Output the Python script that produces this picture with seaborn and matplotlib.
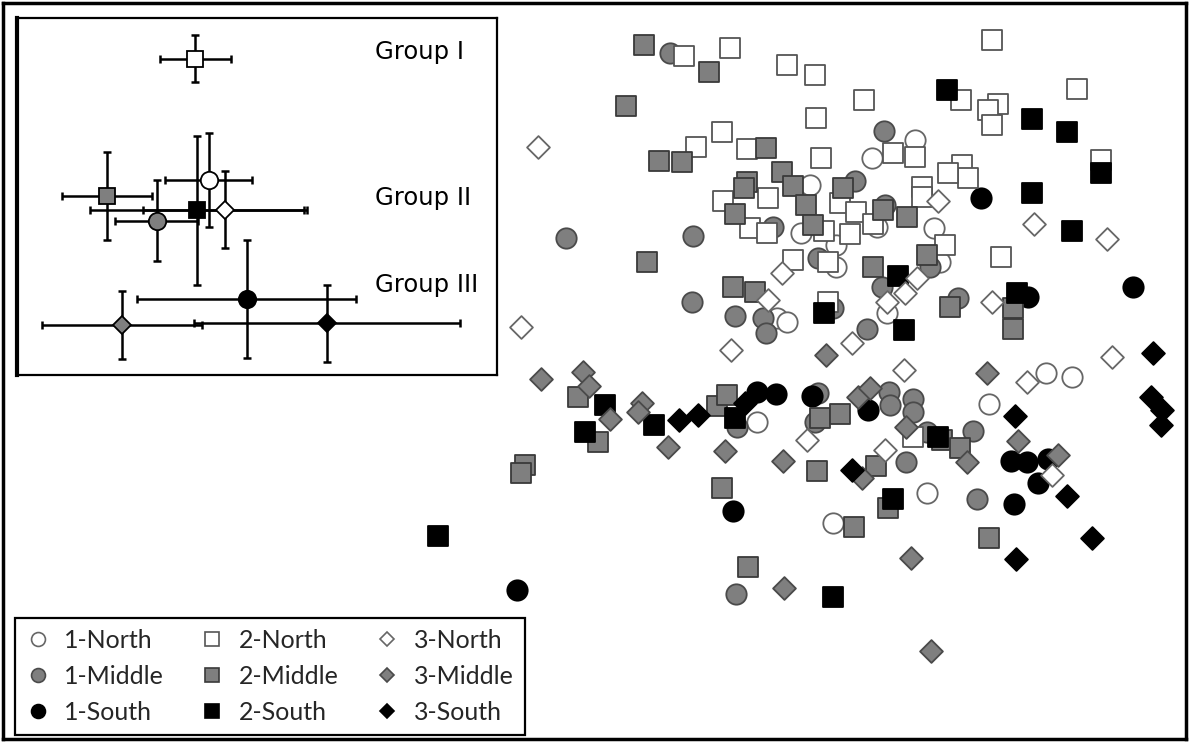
import matplotlib
matplotlib.use("Agg")
import matplotlib.pyplot as plt
import seaborn as sns
from matplotlib.lines import Line2D

# ---------------- data (pixel-like units; y grows downward) -------------
n1_x = [915, 872, 810, 934, 877, 801, 836, 836, 777, 787, 887, 940, 757, 1046, 1072, 989, 927, 833]
n1_y = [140, 158, 185, 228, 227, 233, 245, 267, 318, 322, 313, 262, 422, 373, 377, 404, 493, 523]

m1_x = [670, 884, 855, 773, 885, 566, 693, 692, 735, 818, 763, 766, 833, 882, 867, 930, 889, 890,
        913, 913, 815, 737, 958, 973, 977, 906, 736, 927, 818]
m1_y = [53, 131, 181, 227, 205, 238, 236, 302, 316, 258, 318, 333, 308, 287, 329, 267, 392, 405,
        399, 412, 422, 427, 298, 431, 499, 462, 594, 432, 393]

s1_x = [981, 1028, 1133, 757, 776, 812, 868, 1011, 1027, 1048, 1038, 1014, 733, 517]
s1_y = [198, 297, 287, 392, 394, 396, 410, 461, 462, 459, 483, 504, 511, 590]

n2_x = [684, 730, 787, 815, 864, 992, 1077, 961, 998, 988, 992, 1101, 962, 968, 816, 722, 696, 747,
        821, 893, 915, 948, 922, 922, 768, 840, 856, 750, 767, 824, 850, 873, 945, 723, 793, 828,
        828, 913, 1001]
n2_y = [56, 48, 65, 75, 100, 40, 89, 100, 104, 110, 125, 160, 165, 178, 118, 132, 147, 149,
        158, 153, 157, 173, 187, 197, 198, 203, 212, 228, 233, 231, 234, 224, 245, 201, 260, 262,
        302, 437, 257]

m2_x = [644, 709, 626, 659, 682, 735, 766, 782, 747, 744, 793, 843, 806, 883, 907, 813, 647, 733,
        755, 927, 873, 950, 820, 840, 942, 578, 598, 525, 521, 717, 727, 1013, 1013, 960, 989, 817,
        876, 888, 854, 748, 722]
m2_y = [45, 72, 106, 161, 162, 214, 148, 172, 182, 188, 186, 188, 205, 210, 217, 225, 262, 287,
        292, 255, 267, 307, 418, 414, 440, 397, 442, 465, 473, 406, 395, 308, 329, 448, 538, 471,
        466, 508, 527, 567, 488]

s2_x = [947, 1032, 1067, 1101, 1032, 1072, 898, 824, 904, 1017, 938, 735, 605, 585, 654, 893, 833, 438]
s2_y = [90, 119, 132, 173, 193, 231, 276, 313, 330, 293, 437, 418, 405, 432, 425, 499, 597, 536]

n3_x = [538, 521, 731, 938, 1034, 1107, 782, 768, 852, 887, 905, 917, 904, 807, 885, 992, 1112, 1027, 1052]
n3_y = [147, 327, 350, 201, 224, 239, 273, 300, 343, 302, 293, 278, 370, 440, 450, 302, 357, 382, 475]

m3_x = [541, 583, 589, 610, 642, 638, 668, 725, 826, 858, 870, 906, 783, 987, 1018, 1058, 967, 862,
        911, 784, 931]
m3_y = [379, 372, 386, 419, 403, 412, 447, 451, 355, 397, 388, 427, 461, 373, 441, 455, 462, 478,
        558, 588, 651]

s3_x = [679, 698, 745, 852, 1153, 1151, 1162, 1161, 1015, 1067, 1092, 1016]
s3_y = [420, 415, 403, 470, 353, 397, 410, 425, 416, 496, 538, 559]

series_labels = ["1-North", "1-Middle", "1-South", "2-North", "2-Middle", "2-South",
                 "3-North", "3-Middle", "3-South"]

# inset: group means with error ranges (center, low, high)
inset_labels = ["2-North", "1-North", "2-Middle", "1-Middle", "2-South", "3-North",
                "1-South", "3-Middle", "3-South"]
inset_x = [195, 209, 107, 157, 197, 225, 247, 122, 327]
inset_xlo = [160, 165, 62, 115, 90, 143, 137, 42, 194]
inset_xhi = [231, 252, 152, 198, 304, 307, 356, 202, 460]
inset_y = [59, 180, 196, 221, 210, 210, 299, 325, 323]
inset_ylo = [35, 133, 152, 180, 136, 171, 240, 291, 285]
inset_yhi = [82, 227, 240, 261, 285, 248, 358, 359, 362]

group_names = ["Group I", "Group II", "Group III"]
group_label_y = [52, 198, 285]

# ---------------- styles ----------------
GRAY = "#7f7f7f"
styles = {
    "1-North": dict(marker="o", fc="white", ec="#666666"),
    "1-Middle": dict(marker="o", fc=GRAY, ec="#4a4a4a"),
    "1-South": dict(marker="o", fc="black", ec="black"),
    "2-North": dict(marker="s", fc="white", ec="#555555"),
    "2-Middle": dict(marker="s", fc=GRAY, ec="#3a3a3a"),
    "2-South": dict(marker="s", fc="black", ec="black"),
    "3-North": dict(marker="D", fc="white", ec="#666666"),
    "3-Middle": dict(marker="D", fc=GRAY, ec="#4a4a4a"),
    "3-South": dict(marker="D", fc="black", ec="black"),
}
main_size = {"o": 215, "s": 200, "D": 135}

sns.set_theme(style="white")
plt.rcParams['font.family'] = ['DejaVu Sans']

W, H = 1189, 742
fig = plt.figure(figsize=(W / 100, H / 100), dpi=100)

ax = fig.add_axes([3 / W, 3 / H, 1183 / W, 736 / H])
ax.set_xlim(3, 1186)
ax.set_ylim(739, 3)
ax.set_xticks([])
ax.set_yticks([])
for sp in ax.spines.values():
    sp.set_visible(True)
    sp.set_color("black")
    sp.set_linewidth(2.5)

data = {
    "1-North": (n1_x, n1_y), "1-Middle": (m1_x, m1_y), "1-South": (s1_x, s1_y),
    "2-North": (n2_x, n2_y), "2-Middle": (m2_x, m2_y), "2-South": (s2_x, s2_y),
    "3-North": (n3_x, n3_y), "3-Middle": (m3_x, m3_y), "3-South": (s3_x, s3_y),
}
for lab in series_labels:
    xs, ys = data[lab]
    st = styles[lab]
    sns.scatterplot(x=xs, y=ys, ax=ax, marker=st["marker"], s=main_size[st["marker"]],
                    color=st["fc"], edgecolor=st["ec"], linewidth=1.3, legend=False)
ax.set_xlabel("")
ax.set_ylabel("")

# ---------------- inset ----------------
ia = fig.add_axes([17 / W, 1 - 375 / H, 480 / W, 357 / H])
ia.set_xlim(17, 497)
ia.set_ylim(375, 18)
ia.set_xticks([])
ia.set_yticks([])
ia.set_facecolor("white")
for name, sp in ia.spines.items():
    sp.set_visible(True)
    sp.set_color("black")
    sp.set_linewidth(1.6)
ia.spines["left"].set_linewidth(3)

inset_ms = {"o": 12.5, "s": 12, "D": 9.5}
for i, lab in enumerate(inset_labels):
    x, y = inset_x[i], inset_y[i]
    ia.errorbar([x], [y],
                xerr=[[x - inset_xlo[i]], [inset_xhi[i] - x]],
                yerr=[[y - inset_ylo[i]], [inset_yhi[i] - y]],
                fmt="none", ecolor="black", elinewidth=1.8, capsize=3, capthick=1.8, zorder=2)
for i, lab in enumerate(inset_labels):
    st = styles[lab]
    ia.plot([inset_x[i]], [inset_y[i]], marker=st["marker"], ms=inset_ms[st["marker"]],
            mfc=st["fc"], mec="black", mew=1.3, ls="none", zorder=3)
for g, gy in zip(group_names, group_label_y):
    ia.text(375, gy, g, fontsize=17.5, ha="left", va="center", color="black")

# ---------------- legend ----------------
leg_ms = {"o": 10, "s": 9.5, "D": 7}
handles = []
for lab in series_labels:
    st = styles[lab]
    handles.append(Line2D([], [], marker=st["marker"], ls="none", ms=leg_ms[st["marker"]],
                          mfc=st["fc"], mec=st["ec"], mew=1.2))
leg = fig.legend(handles, series_labels, ncol=3, loc="lower left",
                 bbox_to_anchor=(15 / W, 1 - 735 / H), borderaxespad=0,
                 frameon=True, fancybox=False,
                 edgecolor="black", framealpha=1, borderpad=0.45, labelspacing=0.52,
                 handlelength=0.9, handletextpad=0.6, columnspacing=1.5,
                 prop={"family": "Lato", "size": 18})
leg.get_frame().set_linewidth(1.6)

fig.savefig("out.png", dpi=100)
